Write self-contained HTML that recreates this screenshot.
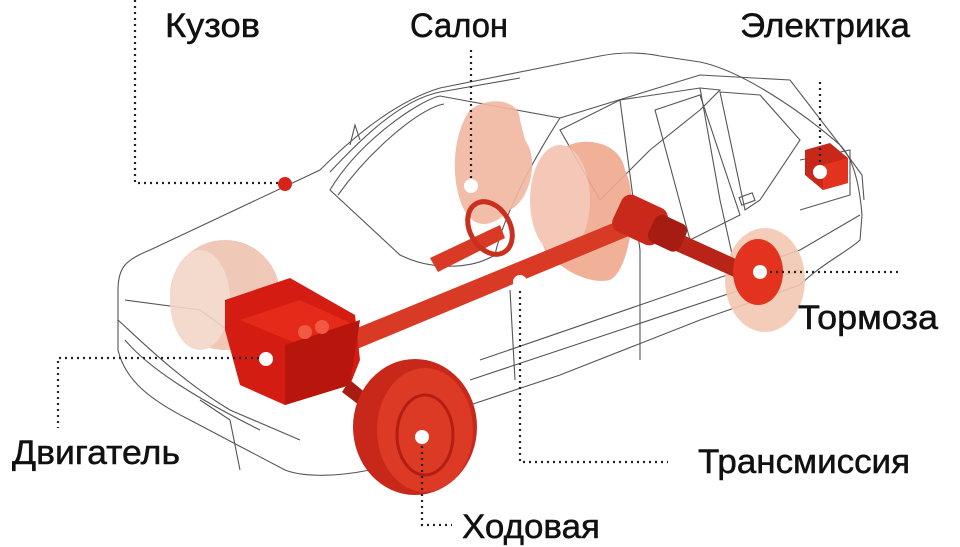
<!DOCTYPE html>
<html><head><meta charset="utf-8"><style>
html,body{margin:0;padding:0;background:#fff;width:960px;height:547px;overflow:hidden}
svg{display:block}
text{font-family:"Liberation Sans","DejaVu Sans",sans-serif;font-size:34px;fill:#111;stroke:#111;stroke-width:0.5}
</style></head><body>
<svg width="960" height="547" viewBox="0 0 960 547" xmlns="http://www.w3.org/2000/svg">
<g fill="none" stroke="#555" stroke-width="1.1">
<path d="M118,290 C118,268 125,260 150,250 L320,170 C360,130 400,100 440,88 L600,56 C620,52 640,52 660,56 L700,62 C740,70 800,110 840,145 C855,160 860,190 862,215 L860,240 C850,250 820,265 800,285 L700,320 L560,375 L470,405 C440,420 430,440 430,450 L370,470 C330,478 300,476 285,470 L190,420 C150,400 125,380 118,350 Z"/>
<path d="M330,172 C360,140 400,100 440,92 L520,78"/>
<path d="M125,300 L200,310 L310,390"/>
<path d="M118,320 C140,340 180,380 230,410 L300,440"/>
<path d="M125,340 C150,370 200,400 260,430"/>
<path d="M200,400 L230,420 L240,470"/>
<path d="M330,190 C360,140 420,100 440,96 L560,118 C520,180 500,230 495,255 C470,270 430,270 400,255 Z"/>
<path d="M338,195 C370,150 420,108 444,104"/>
<path d="M560,130 L620,100 L700,88 L720,90 L700,110 L650,150 L600,200 Z"/>
<path d="M655,110 L700,95 L740,215 L690,240 Z"/>
<path d="M720,92 L760,95 L800,140 L760,200 L745,210 Z"/>
<path d="M560,118 L700,75 L790,80 L840,145"/>
<path d="M620,100 L640,250 L640,360"/>
<path d="M700,88 L720,200 L740,290"/>
<path d="M510,290 L515,380"/>
<path d="M480,360 L800,250 L860,215"/>
<path d="M470,380 L800,270"/>
<path d="M800,160 L850,150 L850,195 L800,210"/>
<path d="M840,145 L862,175 L864,200"/>
<rect x="740" y="195" width="14" height="8" transform="rotate(-20 747 199)"/>
<path d="M350,145 L355,125 L360,140"/>
</g>
<g fill="#f2b7a0" opacity="0.9">
<ellipse cx="225" cy="295" rx="55" ry="55" fill="#eec3b0"/>
<ellipse cx="200" cy="300" rx="30" ry="50" fill="#f3d6c8"/>
<path d="M470,110 C490,95 520,100 520,120 L525,140 C540,160 530,200 510,210 C490,230 470,230 460,200 C450,170 455,130 470,110 Z"/>
<path d="M560,150 C580,135 620,140 625,170 C640,200 630,270 610,280 C590,285 560,270 545,250 C530,220 540,170 560,150 Z" fill="#f0a98f"/>
<ellipse cx="560" cy="200" rx="30" ry="55" fill="#f4c2b0"/>
<ellipse cx="765" cy="280" rx="40" ry="52" fill="#f3c6b3"/>
</g>
<path d="M340,335 L640,212 L648,228 L350,352 Z" fill="#d93a26"/>
<path d="M650,220 L760,270 L752,285 L640,235 Z" fill="#b82418"/>
<path d="M430,258 L500,225 L505,238 L438,272 Z" fill="#d93a26"/>
<ellipse cx="490" cy="228" rx="20" ry="28" fill="none" stroke="#c9301e" stroke-width="5" transform="rotate(-30 490 228)"/>
<rect x="615" y="200" width="50" height="40" rx="10" fill="#c8291a" transform="rotate(25 640 220)"/>
<rect x="650" y="218" width="35" height="30" rx="8" fill="#a61c12" transform="rotate(25 667 233)"/>
<ellipse cx="758" cy="272" rx="25" ry="33" fill="#e3321e"/>
<path d="M350,380 L380,405 L372,415 L342,392 Z" fill="#a61c12"/>
<path d="M225,300 L290,278 L355,315 L360,360 L350,385 L285,405 L240,385 L225,330 Z" fill="#d41c12"/>
<path d="M240,320 L300,300 L355,325 L300,345 Z" fill="#e52a1a"/>
<path d="M285,345 L360,320 L350,385 L285,405 Z" fill="#b8150c"/>
<circle cx="305" cy="332" r="7" fill="#ef5a40"/><circle cx="322" cy="327" r="7" fill="#ef5a40"/>
<ellipse cx="415" cy="427" rx="62" ry="68" fill="#c8281a"/>
<ellipse cx="425" cy="430" rx="48" ry="62" fill="#dc3a24"/>
<ellipse cx="425" cy="435" rx="28" ry="40" fill="none" stroke="#b21e12" stroke-width="3"/>
<path d="M805,150 L830,143 L848,158 L848,183 L823,190 L805,175 Z" fill="#c8281a"/>
<path d="M823,165 L848,158 L848,183 L823,190 Z" fill="#e3321e"/>
<g stroke="#222" stroke-width="2.2" stroke-dasharray="2,4" fill="none">
<path d="M135,0 L135,183 L283,183"/>
<path d="M471,50 L471,185"/>
<path d="M820,82 L820,170"/>
<path d="M770,272 L900,272"/>
<path d="M265,358 L58,358 L58,428"/>
<path d="M520,285 L520,462 L668,462"/>
<path d="M422,440 L422,525 L452,525"/>
</g>
<circle cx="285" cy="184" r="7" fill="#d8231a"/>
<g fill="#fff">
<circle cx="471" cy="186" r="7"/><circle cx="820" cy="172" r="7"/><circle cx="760" cy="272" r="7"/>
<circle cx="266" cy="359" r="7"/><circle cx="520" cy="282" r="7"/><circle cx="422" cy="437" r="7"/>
</g>
<text x="165" y="37" textLength="95" lengthAdjust="spacingAndGlyphs">Кузов</text>
<text x="410" y="37" textLength="98" lengthAdjust="spacingAndGlyphs">Салон</text>
<text x="740" y="37" textLength="170" lengthAdjust="spacingAndGlyphs">Электрика</text>
<text x="798" y="329" textLength="140" lengthAdjust="spacingAndGlyphs">Тормоза</text>
<text x="12" y="464" textLength="168" lengthAdjust="spacingAndGlyphs">Двигатель</text>
<text x="698" y="473" textLength="212" lengthAdjust="spacingAndGlyphs">Трансмиссия</text>
<text x="462" y="538" textLength="138" lengthAdjust="spacingAndGlyphs">Ходовая</text>
</svg>
</body></html>
